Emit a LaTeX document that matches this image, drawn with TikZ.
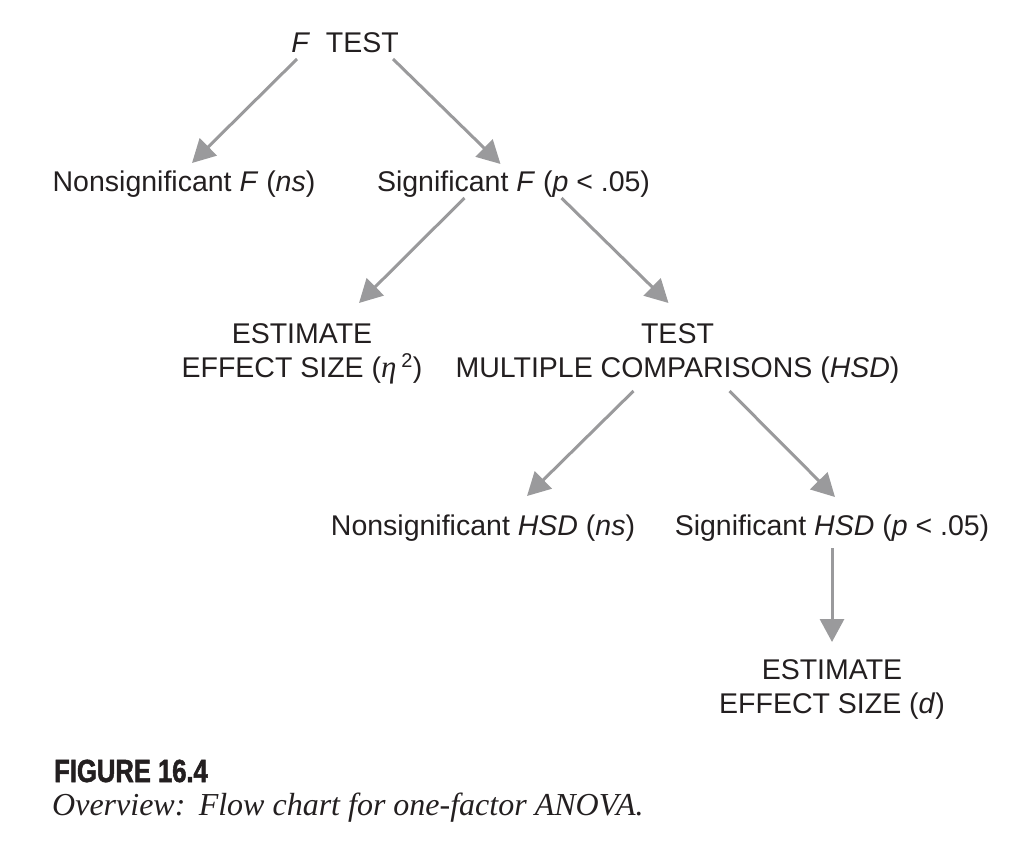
\documentclass[tikz,border=0pt]{standalone}
\usepackage{fontspec}
\setmainfont{Liberation Sans}
\newfontfamily\capserif{Liberation Serif}
\newfontfamily\figfont[FakeStretch=0.80,BoldFeatures={FakeBold=1.6}]{Liberation Sans}
\usetikzlibrary{arrows.meta,calc}
\definecolor{arrgray}{HTML}{9A9A9C}
\definecolor{txt}{HTML}{231F20}
\tikzset{
  lbl/.style={anchor=base, inner sep=0pt, text=txt, font=\fontsize{28.5}{33.5}\selectfont},
  arr/.style={draw=arrgray, line width=3pt, -{Triangle[length=23pt,width=24pt]}},
}
\newcommand{\twoline}[2]{\begin{tabular}[b]{@{}c@{}}#1\\#2\end{tabular}}
\begin{document}
\begin{tikzpicture}[x=1pt,y=-1pt]
\useasboundingbox (0,0) rectangle (1015,841);
\node[lbl] (ftest) at (345,52) {\textit{F}\ \ TEST};
\node[lbl] (nsF) at (184,191) {Nonsignificant \textit{F} (\textit{ns})};
\node[lbl] (sigF) at (513.5,191) {Significant \textit{F} (\textit{p} < .05)};
\node[lbl] (estEta) at (302,377) {\twoline{ESTIMATE}{EFFECT SIZE ({\capserif\itshape\fontsize{31}{33}\selectfont η}\,\textsuperscript{2})}};
\node[lbl] (testMC) at (677.5,377) {\twoline{TEST}{MULTIPLE COMPARISONS (\textit{HSD})}};
\node[lbl] (nsHSD) at (483,535) {Nonsignificant \textit{HSD} (\textit{ns})};
\node[lbl] (sigHSD) at (832,535) {Significant \textit{HSD} (\textit{p} < .05)};
\node[lbl] (estD) at (832,713) {\twoline{ESTIMATE}{EFFECT SIZE (\textit{d})}};

\draw[arr] ($(ftest.base)+(-48,7)$) -- ($(nsF.base)+(8,-28)$);
\draw[arr] ($(ftest.base)+(48,7)$) -- ($(sigF.base)+(-13,-27)$);
\draw[arr] ($(sigF.base)+(-49,7)$) -- ($(estEta.base)+(57,-74)$);
\draw[arr] ($(sigF.base)+(48,7)$) -- ($(testMC.base)+(-9,-74)$);
\draw[arr] ($(testMC.base)+(-44,14)$) -- ($(nsHSD.base)+(44,-39)$);
\draw[arr] ($(testMC.base)+(52,14)$) -- ($(sigHSD.base)+(3,-38)$);
\draw[arr] ($(sigHSD.base)+(0,13)$) -- ($(estD.base)+(0,-71)$);

\node[anchor=base west, inner sep=0pt, text=txt, font=\figfont\bfseries\fontsize{32}{36}\selectfont] (figlabel) at (54,782) {FIGURE 16.4};
\node[anchor=base west, inner sep=0pt, text=txt, font=\capserif\itshape\fontsize{32}{38}\selectfont] (caption) at (52,815) {Overview:\ \,Flow chart for one-factor ANOVA.};
\end{tikzpicture}
\end{document}
